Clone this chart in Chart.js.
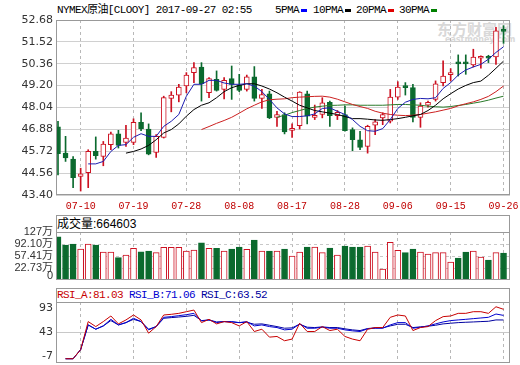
<!DOCTYPE html>
<html>
<head>
<meta charset="utf-8">
<title>NYMEX原油</title>
<script src="https://cdn.jsdelivr.net/npm/chart.js@4.4.1/dist/chart.umd.min.js"></script>
<style>
  html, body { margin: 0; padding: 0; background: #fff; }
  body { position: relative; width: 520px; height: 365px; overflow: hidden; }
  canvas { position: absolute; left: 0; }
  .txt { position: absolute; white-space: nowrap; font-family: "Liberation Mono", "Noto Sans CJK SC", monospace; font-size: 11px; letter-spacing: -0.6px; line-height: 12px; color: #000; }
  .dash { position: absolute; top: 9px; width: 6px; height: 3px; }
  .box { position: absolute; left: 56px; width: 454px; box-sizing: border-box; border: 1px solid #999; border-bottom: none; }
  .wm { position: absolute; white-space: nowrap; color: #d8d8d8; font-weight: bold; }
</style>
</head>
<body>
<div class="wm" style="left:437px; top:18px; font-size:15px; font-family:'Noto Sans CJK SC'">东方财富网</div>
<div class="wm" style="left:445px; top:35px; font-size:8px; font-family:'DejaVu Sans'">eastmoney.com</div>

<div class="txt" style="left:57px; top:4px">NYMEX原油[CLOOY] 2017-09-27 02:55</div>
<div class="txt" style="left:275px; top:4px">5PMA</div><div class="dash" style="left:301px; background:#0000ff"></div>
<div class="txt" style="left:313px; top:4px">10PMA</div><div class="dash" style="left:345px; background:#000"></div>
<div class="txt" style="left:356px; top:4px">20PMA</div><div class="dash" style="left:388px; background:#e00000"></div>
<div class="txt" style="left:399px; top:4px">30PMA</div><div class="dash" style="left:431px; background:#008000"></div>

<div class="box" style="top:215px; height:17px"></div>
<div class="txt" style="left:57px; top:217px; font-family:'Liberation Sans','Noto Sans CJK SC',sans-serif; font-size:12px; letter-spacing:0; line-height:14px">成交量:664603</div>
<div class="box" style="top:288px; height:14px"></div>
<div class="txt" style="left:57px; top:289px"><span style="color:#c80000">RSI_A:81.03</span> <span style="color:#0000d0">RSI_B:71.06</span> <span style="color:#0000a0">RSI_C:63.52</span></div>

<canvas id="kline" width="520" height="214" style="top:0"></canvas>
<canvas id="vol" width="520" height="70" style="top:214px"></canvas>
<canvas id="rsi" width="520" height="77" style="top:288px"></canvas>

<script>
const dates = [
  "07-05", "07-06", "07-07", "07-10", "07-11", "07-12", "07-13", "07-14", "07-17", "07-18",
  "07-19", "07-20", "07-21", "07-24", "07-25", "07-26", "07-27", "07-28", "07-31", "08-01",
  "08-02", "08-03", "08-04", "08-07", "08-08", "08-09", "08-10", "08-11", "08-14", "08-15",
  "08-16", "08-17", "08-18", "08-21", "08-22", "08-23", "08-24", "08-25", "08-28", "08-29",
  "08-30", "08-31", "09-01", "09-04", "09-05", "09-06", "09-07", "09-08", "09-11", "09-12",
  "09-13", "09-14", "09-15", "09-18", "09-19", "09-20", "09-21", "09-22", "09-25", "09-26",
];
const xTickLabels = ["07-10", "07-19", "07-28", "08-08", "08-17", "08-28", "09-06", "09-15", "09-26"];

const openP = [
  47.01, 45.62, 45.30, 44.38, 44.59, 45.71, 45.44, 46.07, 46.64, 46.19,
  46.19, 47.26, 46.90, 45.66, 46.46, 48.52, 48.70, 49.18, 49.89, 50.19,
  48.82, 49.53, 49.00, 49.57, 49.23, 49.00, 49.66, 48.52, 48.77, 47.52,
  47.67, 46.83, 47.08, 48.77, 47.52, 47.67, 48.32, 47.61, 47.67, 46.87,
  46.33, 45.98, 47.10, 47.49, 47.31, 48.59, 49.12, 49.09, 47.52, 48.16,
  48.47, 49.36, 49.78, 50.38, 50.38, 50.30, 50.65, 50.72, 50.72, 52.15,
];
const highP = [
  47.31, 46.51, 45.44, 44.82, 45.80, 46.48, 46.24, 46.74, 46.83, 47.10,
  47.44, 47.76, 47.17, 46.60, 48.64, 48.88, 49.27, 49.89, 50.42, 50.42,
  49.62, 49.98, 49.62, 50.24, 49.80, 49.76, 50.21, 49.00, 48.91, 47.84,
  47.76, 47.17, 48.88, 48.91, 48.17, 48.56, 48.38, 47.88, 48.11, 46.96,
  46.78, 47.10, 47.40, 47.76, 49.00, 49.41, 49.36, 49.27, 48.29, 48.38,
  49.45, 50.51, 50.10, 50.83, 50.83, 51.13, 50.78, 50.81, 52.29, 52.38,
];
const lowP = [
  44.47, 45.18, 43.79, 43.61, 43.79, 45.30, 44.95, 45.80, 45.89, 45.98,
  46.07, 46.81, 45.53, 45.39, 46.42, 47.81, 48.34, 48.82, 49.36, 48.38,
  48.56, 48.91, 48.50, 48.47, 48.88, 48.91, 48.38, 47.99, 47.45, 47.04,
  46.64, 46.46, 46.90, 47.17, 47.40, 47.49, 47.04, 47.40, 46.78, 45.75,
  45.80, 45.62, 46.60, 47.13, 47.22, 48.47, 48.70, 47.28, 46.99, 48.06,
  48.38, 49.18, 49.45, 49.71, 49.80, 50.19, 50.12, 50.42, 50.33, 51.44,
];
const closeP = [
  45.59, 45.36, 44.32, 44.52, 45.71, 45.48, 46.10, 46.64, 46.03, 46.42,
  47.26, 46.92, 45.57, 46.51, 48.56, 48.70, 49.12, 49.76, 50.16, 49.30,
  49.57, 48.95, 49.48, 49.27, 48.95, 49.66, 48.52, 48.73, 47.49, 47.67,
  46.74, 46.92, 48.86, 47.58, 47.60, 48.29, 47.61, 47.79, 46.81, 46.33,
  45.92, 47.04, 47.28, 47.67, 48.59, 49.12, 49.09, 47.52, 48.11, 48.32,
  49.30, 49.71, 49.82, 50.35, 50.35, 50.72, 50.72, 50.65, 52.11, 52.08,
];

// moving averages; each list starts at the given candle index
const ma5From = 4;
const ma5 = [
  45.05, 45.05, 45.18, 45.71, 46.03, 46.07, 46.46, 46.65, 46.51, 46.51,
  47.04, 47.31, 47.67, 48.64, 49.27, 49.27, 49.48, 49.48, 49.34, 49.27,
  49.27, 49.30, 49.18, 48.88, 48.47, 48.02, 47.70, 47.56, 47.56, 47.60,
  47.70, 47.99, 48.02, 47.84, 47.67, 47.40, 47.04, 46.81, 46.78, 46.92,
  47.40, 47.99, 48.32, 48.47, 48.52, 48.50, 48.56, 49.05, 49.36, 49.76,
  50.03, 50.19, 50.33, 50.60, 50.96, 51.26,
];
const ma10From = 9;
const ma10 = [
  45.62, 45.71, 45.84, 46.03, 46.33, 46.69, 46.87, 47.17, 47.58, 47.93,
  48.16, 48.29, 48.56, 48.88, 49.09, 49.21, 49.30, 49.30, 49.18, 49.02,
  48.82, 48.59, 48.38, 48.16, 48.02, 47.88, 47.81, 47.74, 47.67, 47.56,
  47.45, 47.45, 47.42, 47.38, 47.36, 47.40, 47.45, 47.52, 47.60, 47.67,
  47.88, 48.16, 48.50, 48.77, 49.02, 49.21, 49.36, 49.44, 49.75, 50.12,
  50.50,
];
const ma20From = 19;
const ma20 = [
  46.87, 47.03, 47.20, 47.35, 47.52, 47.74, 47.97, 48.16, 48.34, 48.45,
  48.48, 48.50, 48.56, 48.59, 48.61, 48.63, 48.64, 48.59, 48.48, 48.34,
  48.20, 48.09, 47.99, 47.84, 47.74, 47.67, 47.63, 47.61, 47.63, 47.67,
  47.74, 47.81, 47.90, 47.99, 48.13, 48.24, 48.34, 48.47, 48.63, 48.88,
  49.18,
];
const ma30From = 29;
const ma30 = [
  47.52, 47.63, 47.77, 47.88, 47.99, 48.06, 48.11, 48.15, 48.16, 48.18,
  48.18, 48.16, 48.16, 48.16, 48.16, 48.18, 48.20, 48.20, 48.18, 48.16,
  48.11, 48.08, 48.06, 48.09, 48.15, 48.20, 48.27, 48.34, 48.43, 48.54,
  48.64,
];
const priceTicks = [43.40, 44.56, 45.72, 46.88, 48.04, 49.20, 50.36, 51.52, 52.68];

// volume in 万
const vol = [
  113.4, 89.6, 92.5, 78.1, 92.5, 89.6, 69.5, 69.5, 53.1, 60.9,
  80.1, 70.3, 72.3, 67.5, 83.0, 83.0, 83.0, 72.3, 75.2, 96.2,
  80.1, 80.1, 72.3, 78.1, 83.8, 77.2, 104.0, 72.3, 72.3, 72.3,
  78.1, 58.0, 69.5, 83.8, 83.8, 67.5, 81.0, 60.9, 86.7, 83.8,
  83.8, 86.7, 69.5, 20.6, 97.3, 74.4, 67.5, 78.1, 69.5, 63.7,
  67.5, 67.5, 40.7, 52.2, 69.5, 72.3, 55.1, 46.5, 67.5, 66.46,
];
const volMin = -11;
const volMax = 127;
const volTicks = [0, 22.73, 57.41, 92.10, 127];
const volTickText = ["0", "22.73万", "57.41万", "92.10万", "127万"];

// RSI lines, starting at candle 1
const rsiFrom = 1;
const rsiA = [
  0, 0, 14.9, 60.9, 52.7, 60.9, 70.1, 57.1, 63.6, 71.7,
  63.6, 41.9, 52.7, 71.7, 72.8, 74.4, 77.1, 79.8, 59.2, 64.6,
  57.1, 60.9, 59.2, 53.8, 60.9, 44.6, 48.4, 35.4, 36.5, 29.5,
  32.2, 58.2, 44.6, 44.6, 52.7, 46.2, 48.4, 36.5, 32.2, 29.5,
  48.4, 51.1, 51.1, 67.9, 71.7, 70.1, 46.2, 51.1, 52.7, 62.5,
  69.0, 70.1, 74.4, 74.4, 77.1, 77.1, 74.4, 85.2, 81.03,
];
const rsiB = [
  0, 0, 15, 55.4, 48.4, 53.8, 64.6, 55.4, 59.2, 66.3,
  60.9, 47.3, 52.7, 67.9, 69.0, 70.6, 72.2, 74.4, 61.9, 63.6,
  59.2, 60.9, 60.9, 59.2, 60.9, 53.8, 55.4, 52.7, 51.1, 47.3,
  48.4, 57.1, 50.0, 50.0, 51.7, 50.0, 50.0, 47.3, 45.7, 44.6,
  49.0, 50.0, 50.0, 55.4, 59.2, 59.2, 50.0, 51.7, 53.8, 57.1,
  60.3, 62.5, 63.6, 64.6, 65.7, 66.8, 67.9, 73.3, 71.06,
];
const rsiC = [
  0, 0, 15, 55.4, 48.4, 53.8, 62.5, 55.4, 59.2, 64.6,
  60.9, 48.4, 52.7, 66.3, 67.4, 68.4, 69.5, 71.1, 62.5, 63.6,
  60.3, 60.9, 60.3, 59.2, 59.8, 56.5, 57.1, 54.9, 52.7, 50.0,
  50.6, 56.5, 51.7, 51.1, 52.2, 51.1, 51.1, 49.0, 47.3, 46.2,
  49.5, 50.6, 50.6, 53.8, 56.5, 56.5, 51.1, 52.2, 53.3, 54.9,
  57.1, 58.2, 59.2, 59.8, 60.3, 60.9, 61.4, 63.6, 63.52,
];
const rsiTicks = [-7, 43, 93];
const rsiTickText = [["-7", ""], "43", ["", "93"]];

const RED = "#cc1020";
const GREEN = "#0b6a2e";
const xMin = -0.265;
const xMax = 59.857;

Chart.defaults.animation = false;
Chart.defaults.responsive = false;
Chart.defaults.devicePixelRatio = 1;
Chart.defaults.plugins.legend.display = false;
Chart.defaults.plugins.tooltip.enabled = false;
Chart.defaults.font.family = "'DejaVu Sans', sans-serif";

const isUp = openP.map((o, i) => closeP[i] >= o);
const candleColor = isUp.map((u) => (u ? RED : GREEN));
const fillColor = isUp.map((u) => (u ? "#fff" : GREEN));
const tickIdx = xTickLabels.map((d) => dates.indexOf(d));

// grey frame round the plot area
const frame = {
  id: "frame",
  afterDraw(chart) {
    const { ctx, chartArea: a } = chart;
    ctx.save();
    ctx.strokeStyle = "#999";
    ctx.lineWidth = 1;
    ctx.strokeRect(Math.round(a.left) + 0.5, Math.round(a.top) + 0.5,
      Math.round(a.right - a.left) - 1, Math.round(a.bottom - a.top) - 1);
    ctx.restore();
  },
};

function xAxis(withLabels) {
  return {
    type: "linear",
    min: xMin,
    max: xMax,
    offset: false,
    afterBuildTicks: (axis) => {
      axis.ticks = tickIdx.map((v) => ({ value: v }));
    },
    afterFit: (axis) => {
      axis.height = withLabels ? 19 : 0;
      axis.paddingLeft = 0;
      axis.paddingRight = 0;
    },
    grid: { color: "#b8b8b8", drawTicks: false, offset: false },
    border: { display: false, dash: [3, 3] },
    ticks: {
      display: withLabels,
      autoSkip: false,
      maxRotation: 0,
      padding: 5,
      color: "#c00000",
      font: { family: "'Liberation Mono', monospace", size: 10 },
      callback: (v) => dates[v],
    },
  };
}

function yAxis(min, max, ticks, label, gridColor, dash, font) {
  return {
    min: min,
    max: max,
    afterBuildTicks: (axis) => {
      axis.ticks = ticks.map((v) => ({ value: v }));
    },
    afterFit: (axis) => {
      axis.width = 56;
      axis.paddingTop = 0;
      axis.paddingBottom = 0;
    },
    grid: { color: gridColor, drawTicks: false },
    border: { display: false, dash: dash },
    ticks: {
      autoSkip: false,
      padding: 3,
      color: "#333",
      font: font,
      callback: label,
    },
  };
}

function line(values, from, color) {
  return {
    type: "line",
    data: values.map((v, k) => ({ x: from + k, y: v })),
    borderColor: color,
    borderWidth: 1,
    pointRadius: 0,
    order: 0,
  };
}

new Chart(document.getElementById("kline"), {
  type: "bar",
  data: {
    datasets: [
      line(ma5, ma5From, "#1c1cb0"),
      line(ma10, ma10From, "#000"),
      line(ma20, ma20From, "#cc2020"),
      line(ma30, ma30From, "#2a7a2a"),
      {
        // candle bodies
        type: "bar",
        data: dates.map((d, i) => ({ x: i, y: [openP[i], closeP[i]] })),
        backgroundColor: fillColor,
        borderColor: candleColor,
        borderWidth: 1,
        borderSkipped: false,
        barThickness: 5,
        minBarLength: 2,
        grouped: false,
        order: 2,
      },
      {
        // wicks
        type: "bar",
        data: dates.map((d, i) => ({ x: i, y: [lowP[i], highP[i]] })),
        backgroundColor: candleColor,
        barThickness: 1,
        grouped: false,
        order: 3,
      },
    ],
  },
  options: {
    layout: { padding: { top: 20, right: 10, bottom: 0, left: 0 } },
    scales: {
      x: xAxis(true),
      y: yAxis(priceTicks[0], priceTicks[priceTicks.length - 1], priceTicks,
        (v) => v.toFixed(2), "#d0d0d0", [], { size: 11 }),
    },
  },
  plugins: [frame],
});

new Chart(document.getElementById("vol"), {
  type: "bar",
  data: {
    datasets: [
      {
        data: vol.map((v, i) => ({ x: i, y: v })),
        base: volMin,
        backgroundColor: fillColor,
        borderColor: candleColor,
        borderWidth: 1,
        barThickness: 6,
        grouped: false,
      },
    ],
  },
  options: {
    layout: { padding: { top: 18, right: 10, bottom: 4, left: 0 } },
    scales: {
      x: xAxis(false),
      y: yAxis(volMin, volMax, volTicks, (v, i) => volTickText[i],
        (c) => (c.tick && c.tick.value > 0 && c.tick.value < volMax ? "#c8c8c8" : "rgba(0,0,0,0)"),
        [3, 3], { family: "'Liberation Sans', 'Noto Sans CJK SC', sans-serif", size: 11 }),
    },
  },
  plugins: [frame],
});

new Chart(document.getElementById("rsi"), {
  type: "line",
  data: {
    datasets: [
      line(rsiA, rsiFrom, "#c80000"),
      line(rsiB, rsiFrom, "#0000d0"),
      line(rsiC, rsiFrom, "#0000a0"),
    ],
  },
  options: {
    layout: { padding: { top: 14, right: 10, bottom: 2, left: 0 } },
    scales: {
      x: xAxis(false),
      y: yAxis(-7, 93, rsiTicks, (v, i) => rsiTickText[i],
        (c) => (c.tick && c.tick.value === 43 ? "#c8c8c8" : "rgba(0,0,0,0)"), [], { size: 11 }),
    },
  },
  plugins: [frame],
});
</script>
</body>
</html>
